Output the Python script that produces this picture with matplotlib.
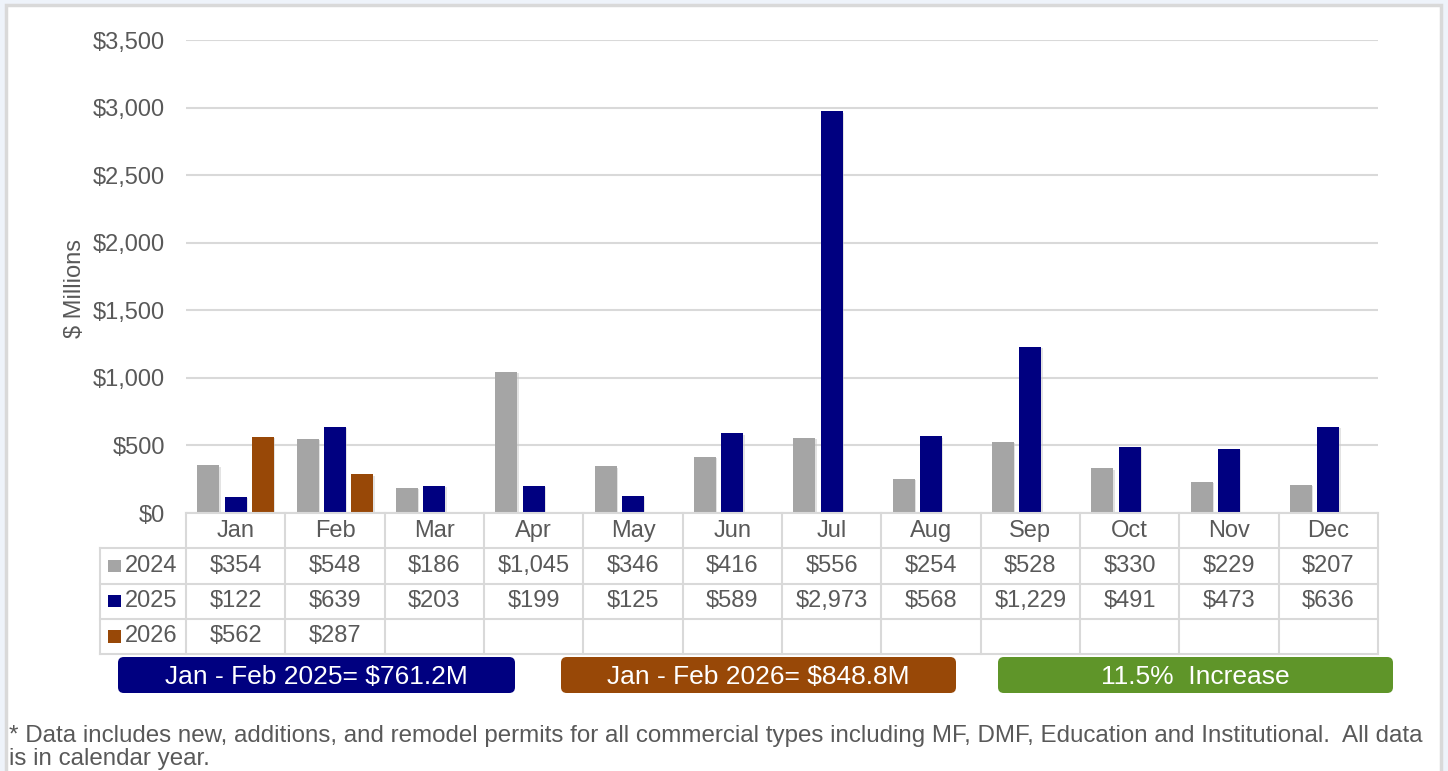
import matplotlib
matplotlib.use("Agg")
import matplotlib.pyplot as plt
import matplotlib.patheffects as pe
import numpy as np
from matplotlib.patches import Rectangle, FancyBboxPatch

plt.rcParams["font.family"] = ["Liberation Sans", "DejaVu Sans"]

months = ["Jan", "Feb", "Mar", "Apr", "May", "Jun", "Jul", "Aug", "Sep", "Oct", "Nov", "Dec"]
years = ["2024", "2025", "2026"]
v2024 = [354, 548, 186, 1045, 346, 416, 556, 254, 528, 330, 229, 207]
v2025 = [122, 639, 203, 199, 125, 589, 2973, 568, 1229, 491, 473, 636]
v2026 = [562, 287]
yticks = [0, 500, 1000, 1500, 2000, 2500, 3000, 3500]
summary = ["Jan - Feb 2025= $761.2M", "Jan - Feb 2026= $848.8M", "11.5%  Increase"]
footnote = ["* Data includes new, additions, and remodel permits for all commercial types including MF, "
            "DMF, Education and Institutional.  All data",
            "is in calendar year."]

COLORS = ["#A5A5A5", "#000080", "#984807"]
BOX_COLORS = ["#000080", "#984807", "#5F9529"]
TXT = "#595959"
LINE = "#D9D9D9"
FS = 17

W, H = 1448, 771
fig = plt.figure(figsize=(W / 100, H / 100), dpi=100)
fig.patch.set_facecolor("#EEF3FA")


def fbox(x0, y0, x1, y1):
    # pixel box (top-left origin) -> figure fraction rect
    return [x0 / W, 1 - y1 / H, (x1 - x0) / W, (y1 - y0) / H]


# white card with grey border
fig.patches.append(Rectangle((6 / W, -0.05), (1441 - 6) / W, 1 - 5 / H + 0.05,
                             transform=fig.transFigure, facecolor="white",
                             edgecolor=LINE, linewidth=2.5, zorder=-10))

# --- bars ---
ax = fig.add_axes(fbox(186, 40, 1378, 513))
ax.set_facecolor("none")
x = np.arange(len(months))
width = 0.22
offs = [-0.275, 0.0, 0.275]
shadow = [pe.SimplePatchShadow(offset=(1, -1), shadow_rgbFace="#C8C8C8", alpha=0.5), pe.Normal()]
for vals, off, c in zip([v2024, v2025, v2026], offs, COLORS):
    xi = x[:len(vals)]
    bars = ax.bar(xi + off, vals, width, color=c, zorder=3)
    for b in bars:
        b.set_path_effects(shadow)
ax.set_xlim(-0.5, 11.5)
ax.set_ylim(0, 3500)
ax.set_yticks(yticks)
ax.set_yticklabels([f"${v:,}" for v in yticks], fontsize=FS, color=TXT)
ax.tick_params(axis="y", length=0, pad=15)
ax.set_xticks([])
for s in ax.spines.values():
    s.set_visible(False)
ax.yaxis.grid(True, color=LINE, linewidth=1.5, zorder=0)
ax.set_axisbelow(True)
fig.text(75 / W, 1 - 289 / H, "$ Millions", rotation=90, ha="center", va="center",
         fontsize=17, color=TXT)

# --- data table ---
label_w = 86 / 99.33
tx = fig.add_axes(fbox(100, 513, 1378, 654))
tx.set_xlim(-0.5 - label_w, 11.5)
tx.set_ylim(4, 0)
tx.axis("off")
xl = -0.5 - label_w
tx.plot([-0.5, 11.5], [0, 0], color=LINE, lw=1.5, clip_on=False)
for r in range(1, 5):
    tx.plot([xl, 11.5], [r, r], color=LINE, lw=1.5, clip_on=False)
for b in np.arange(-0.5, 12.0, 1.0):
    tx.plot([b, b], [0, 4], color=LINE, lw=1.5, clip_on=False)
tx.plot([xl, xl], [1, 4], color=LINE, lw=1.5, clip_on=False)

for i, m in enumerate(months):
    tx.text(i, 0.5, m, ha="center", va="center", fontsize=FS, color=TXT)
for r, (yr, vals, c) in enumerate(zip(years, [v2024, v2025, v2026], COLORS), start=1):
    tx.add_patch(Rectangle((xl + 0.08, r + 0.5 - 0.18), 0.13, 0.36, facecolor=c,
                           edgecolor="none", clip_on=False))
    tx.text(xl + 0.25, r + 0.5, yr, ha="left", va="center", fontsize=FS, color=TXT)
    for i, v in enumerate(vals):
        tx.text(i, r + 0.5, f"${v:,}", ha="center", va="center", fontsize=FS, color=TXT)

# --- summary boxes ---
boxes = [(118, 515), (561, 956), (998, 1393)]
for (x0, x1), label, c in zip(boxes, summary, BOX_COLORS):
    r = fbox(x0, 657, x1, 693)
    fig.patches.append(FancyBboxPatch((r[0], r[1]), r[2], r[3],
                                      boxstyle="round,pad=0,rounding_size=0.004",
                                      transform=fig.transFigure, facecolor=c,
                                      edgecolor="none", mutation_aspect=W / H))
    fig.text(r[0] + r[2] / 2, 1 - 684 / H, label, ha="center", va="baseline",
             fontsize=19, color="white")

# footnote (second line sits at the very bottom edge, as in the source)
fig.text(9 / W, 1 - 742 / H, footnote[0], ha="left", va="baseline", fontsize=17.4, color=TXT)
fig.text(9 / W, 1 - 765 / H, footnote[1], ha="left", va="baseline", fontsize=17.4, color=TXT)

fig.savefig("out.png", dpi=100, facecolor=fig.get_facecolor())
